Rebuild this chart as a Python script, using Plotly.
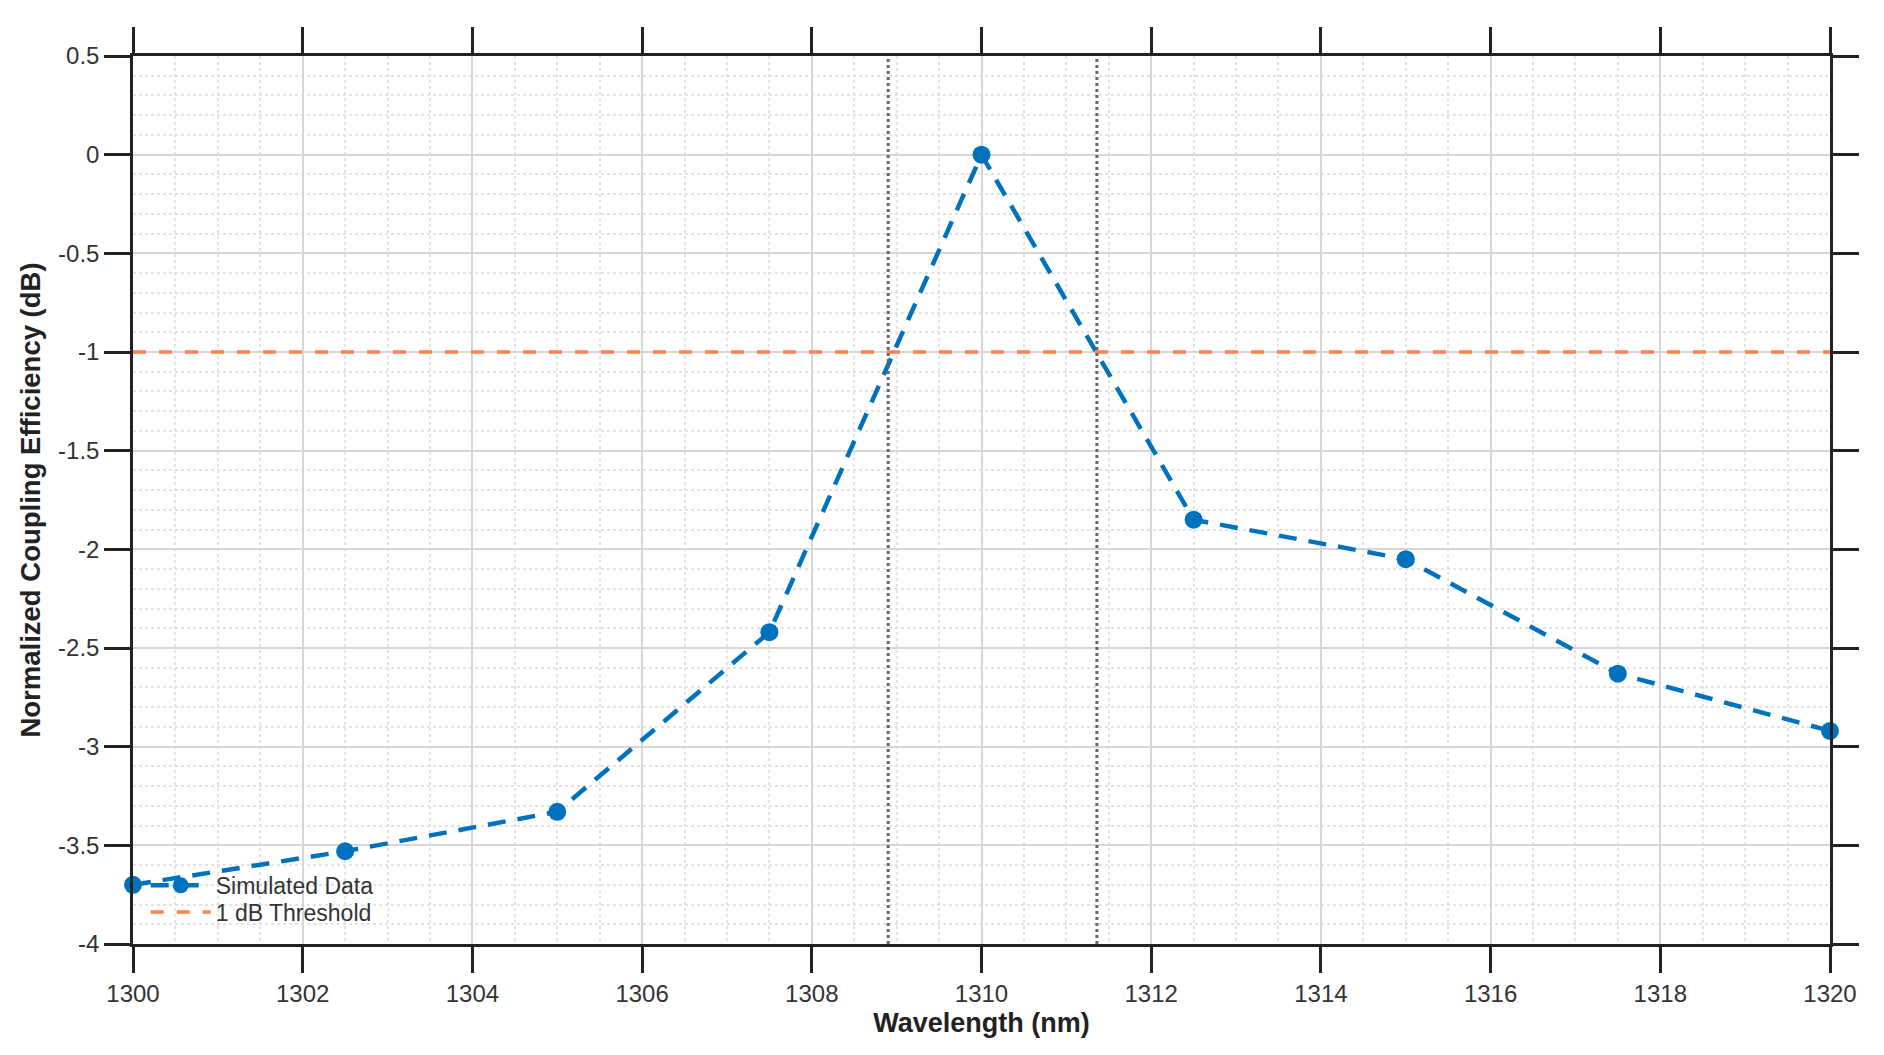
import plotly.graph_objects as go

wavelength = [1300, 1302.5, 1305, 1307.5, 1310, 1312.5, 1315, 1317.5, 1320]
efficiency_db = [-3.70, -3.53, -3.33, -2.42, 0.0, -1.85, -2.05, -2.63, -2.92]
threshold_db = -1.0
band_edges = [1308.9, 1311.36]
x_ticks = [1300, 1302, 1304, 1306, 1308, 1310, 1312, 1314, 1316, 1318, 1320]
y_ticks = [0.5, 0, -0.5, -1, -1.5, -2, -2.5, -3, -3.5, -4]
y_tick_labels = ["0.5", "0", "-0.5", "-1", "-1.5", "-2", "-2.5", "-3", "-3.5", "-4"]

BLUE = "#0072BD"
ORANGE = "#FF7F50"
FONT = "Liberation Sans, Arial, sans-serif"

fig = go.Figure()

fig.add_trace(go.Scatter(
    x=wavelength, y=efficiency_db, mode="lines+markers", name="Simulated Data",
    line=dict(color=BLUE, width=4.5, dash="18px,12px"),
    marker=dict(color=BLUE, size=18),
    cliponaxis=False, legend="legend",
))
fig.add_trace(go.Scatter(
    x=[wavelength[0], wavelength[-1]], y=[threshold_db, threshold_db], mode="lines",
    name="1 dB Threshold",
    line=dict(color=ORANGE, width=3.5, dash="13px,13px"),
    legend="legend2",
))

for xe in band_edges:
    fig.add_shape(type="line", xref="x", yref="paper", x0=xe, x1=xe, y0=0, y1=1,
                  line=dict(color="#666666", width=3, dash="dot"), layer="above")

axis_common = dict(
    showline=True, linecolor="#222222", linewidth=2.5, mirror="ticks",
    ticks="outside", ticklen=26, tickwidth=2.5, tickcolor="#222222",
    showgrid=True, gridcolor="#d6d6d6", gridwidth=1.5,
    tickfont=dict(family=FONT, size=24, color="#333333"),
    zeroline=False,
)

fig.update_xaxes(
    **axis_common,
    range=[1300, 1320], tickvals=x_ticks, ticktext=[str(v) for v in x_ticks],
    title=dict(text="<b>Wavelength (nm)</b>", font=dict(family=FONT, size=27, color="#222222"), standoff=8),
    minor=dict(dtick=0.5, showgrid=True, gridcolor="#e3e3e3", griddash="dot", gridwidth=1.5, ticks=""),
)
fig.update_yaxes(
    **axis_common,
    range=[-4, 0.5], tickvals=y_ticks, ticktext=y_tick_labels,
    title=dict(text="<b>Normalized Coupling Efficiency (dB)</b>", font=dict(family=FONT, size=27.5, color="#222222"), standoff=10),
    minor=dict(dtick=0.1, showgrid=True, gridcolor="#e3e3e3", griddash="dot", gridwidth=1.5, ticks=""),
)

legend_common = dict(xanchor="left", yanchor="middle", bgcolor="rgba(0,0,0,0)",
                     font=dict(family=FONT, size=23, color="#333333"), itemwidth=60)

fig.update_layout(
    width=1868, height=1039,
    margin=dict(l=125, r=46, t=48, b=103),
    plot_bgcolor="white", paper_bgcolor="white",
    font=dict(family=FONT, color="#333333"),
    legend=dict(x=0.0075, y=0.066, **legend_common),
    legend2=dict(x=0.0075, y=0.036, **legend_common),
    showlegend=True,
)

fig.write_html("out.html")
